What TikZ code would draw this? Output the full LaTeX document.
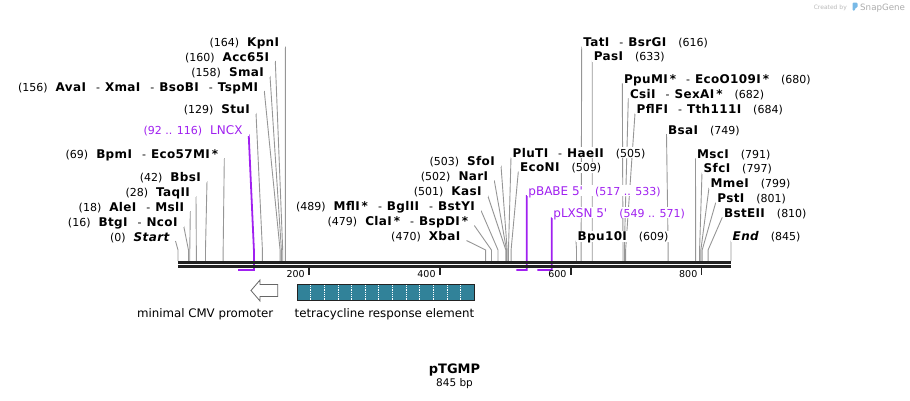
\documentclass[tikz,border=0pt]{standalone}
\usepackage{fontspec}
\setmainfont{DejaVu Sans}
\usetikzlibrary{backgrounds}

\definecolor{sitegray}{RGB}{150,150,150}
\definecolor{primer}{RGB}{160,32,240}
\definecolor{treteal}{RGB}{49,130,153}
\definecolor{backbone}{RGB}{34,34,34}
\definecolor{logoblue}{RGB}{120,185,230}

% map position (bp) -> x
\newcommand{\bpx}[1]{178+0.6544*#1}
\newcommand{\enz}[1]{{\fontsize{12}{13}\selectfont\bfseries\addfontfeature{LetterSpace=3}#1}}
\newcommand{\pname}[1]{{\fontsize{12}{13}\selectfont #1}}
\newcommand{\lgap}{\hspace{8pt}}
\newcommand{\rgap}{\hspace{12pt}}
\newcommand{\hy}{\hspace{10pt}-\hspace{5pt}}

\begin{document}
\begin{tikzpicture}[
    x=1pt, y=-1pt,
    font=\fontsize{11}{13}\selectfont,
    lbl/.style={fill=white, inner xsep=1.5pt, inner ysep=1pt, text depth=0pt},
    leftlbl/.style={lbl, anchor=base east, inner xsep=6pt},
    rightlbl/.style={lbl, anchor=base west},
    cut/.style={draw=sitegray, line width=0.9pt},
    primerline/.style={draw=primer, line width=1.8pt},
    ticklbl/.style={font=\fontsize{9.5}{11}\selectfont, anchor=base east, inner sep=0pt},
    featlbl/.style={font=\fontsize{11.8}{13}\selectfont, inner sep=0pt}
]
\useasboundingbox (0,0) rectangle (910,400);

% cut sites on the backbone
\foreach \p in {0,16,18,28,42,69,92,116,129,156,158,160,164,470,479,489,501,502,503,505,509,517,533,549,571,609,616,633,680,682,684,749,791,797,799,801,810,845}
    \coordinate (c\p) at ({\bpx{\p}},261);

% Enzymes left of the map
\node[leftlbl] (kpn) at (285.3,46.5) {(164)\lgap\enz{KpnI}};
\node[leftlbl] (acc) at (275.3,61) {(160)\lgap\enz{Acc65I}};
\node[leftlbl] (sma) at (270,76) {(158)\lgap\enz{SmaI}};
\node[leftlbl] (ava) at (264.3,91) {(156)\lgap\enz{AvaI}\hy\enz{XmaI}\hy\enz{BsoBI}\hy\enz{TspMI}};
\node[leftlbl] (stu) at (256,113) {(129)\lgap\enz{StuI}};
\node[leftlbl, text=primer] (lncx) at (248.7,134.5) {(92 .. 116)\lgap\pname{LNCX}};
\node[leftlbl] (bpm) at (224.3,158) {(69)\lgap\enz{BpmI}\hy\enz{Eco57MI\,*}};
\node[leftlbl] (bbs) at (207,181) {(42)\lgap\enz{BbsI}};
\node[leftlbl] (taq) at (196,196) {(28)\lgap\enz{TaqII}};
\node[leftlbl] (ale) at (190.3,211) {(18)\lgap\enz{AleI}\hy\enz{MslI}};
\node[leftlbl] (btg) at (183.7,226) {(16)\lgap\enz{BtgI}\hy\enz{NcoI}};
\node[leftlbl] (start) at (175.5,241) {(0)\lgap\enz{\itshape Start}};

% middle group
\node[leftlbl] (sfo) at (501,165.5) {(503)\lgap\enz{SfoI}};
\node[leftlbl] (nar) at (494.3,180.5) {(502)\lgap\enz{NarI}};
\node[leftlbl] (kas) at (487.7,195.5) {(501)\lgap\enz{KasI}};
\node[leftlbl] (mfl) at (481,210.5) {(489)\lgap\enz{MflI\,*}\hy\enz{BglII}\hy\enz{BstYI}};
\node[leftlbl] (cla) at (474.3,225.5) {(479)\lgap\enz{ClaI\,*}\hy\enz{BspDI\,*}};
\node[leftlbl] (xba) at (466.5,240.5) {(470)\lgap\enz{XbaI}};
\node[rightlbl] (plu) at (511,157.3) {\enz{PluTI}\hy\enz{HaeII}\rgap(505)};
\node[rightlbl] (econ) at (518.3,171.7) {\enz{EcoNI}\rgap(509)};
\node[rightlbl, text=primer] (pbabe) at (526.7,195) {\pname{pBABE 5\textquotesingle}\rgap(517 .. 533)};
\node[rightlbl, text=primer] (plxsn) at (551.7,217.3) {\pname{pLXSN 5\textquotesingle}\rgap(549 .. 571)};

% Enzymes right of the map
\node[rightlbl] (tat) at (581.7,46.7) {\enz{TatI}\hy\enz{BsrGI}\rgap(616)};
\node[rightlbl] (pas) at (592.2,60.7) {\enz{PasI}\rgap(633)};
\node[rightlbl] (ppu) at (622.3,83.3) {\enz{PpuMI\,*}\hy\enz{EcoO109I\,*}\rgap(680)};
\node[rightlbl] (csi) at (628.3,98.3) {\enz{CsiI}\hy\enz{SexAI\,*}\rgap(682)};
\node[rightlbl] (pfl) at (635,113.3) {\enz{PflFI}\hy\enz{Tth111I}\rgap(684)};
\node[rightlbl] (bsa) at (666.5,134) {\enz{BsaI}\rgap(749)};
\node[rightlbl] (msc) at (695.5,158.3) {\enz{MscI}\rgap(791)};
\node[rightlbl] (sfc) at (702,172.7) {\enz{SfcI}\rgap(797)};
\node[rightlbl] (mme) at (709,187.7) {\enz{MmeI}\rgap(799)};
\node[rightlbl] (pst) at (715.7,202.7) {\enz{PstI}\rgap(801)};
\node[rightlbl] (bst) at (722.3,217.3) {\enz{BstEII}\rgap(810)};
\node[rightlbl] (bpu) at (576,240.7) {\enz{Bpu10I}\rgap(609)};
\node[rightlbl] (fin) at (731,240.7) {\enz{\itshape End}\rgap(845)};

% leader lines down to the sequence
\begin{scope}[on background layer]
\draw[cut] (kpn.base east) -- ([yshift=11pt]c164) -- (c164);
\draw[cut] (acc.base east) -- ([yshift=11pt]c160) -- (c160);
\draw[cut] (sma.base east) -- ([yshift=11pt]c158) -- (c158);
\draw[cut] (ava.base east) -- ([yshift=11pt]c156) -- (c156);
\draw[cut] (stu.base east) -- ([yshift=11pt]c129) -- (c129);
\draw[cut] (bpm.base east) -- ([yshift=11pt]c69) -- (c69);
\draw[cut] (bbs.base east) -- ([yshift=11pt]c42) -- (c42);
\draw[cut] (taq.base east) -- ([yshift=11pt]c28) -- (c28);
\draw[cut] (ale.base east) -- ([yshift=11pt]c18) -- (c18);
\draw[cut] (btg.base east) -- ([yshift=11pt]c16) -- (c16);
\draw[cut] (start.base east) -- ([yshift=11pt]c0) -- (c0);
\draw[cut] (sfo.base east) -- ([yshift=11pt]c503) -- (c503);
\draw[cut] (nar.base east) -- ([yshift=11pt]c502) -- (c502);
\draw[cut] (kas.base east) -- ([yshift=11pt]c501) -- (c501);
\draw[cut] (mfl.base east) -- ([yshift=11pt]c489) -- (c489);
\draw[cut] (cla.base east) -- ([yshift=11pt]c479) -- (c479);
\draw[cut] (xba.base east) -- ([yshift=11pt]c470) -- (c470);
\draw[cut] (plu.base west) -- ([yshift=11pt]c505) -- (c505);
\draw[cut] (econ.base west) -- ([yshift=11pt]c509) -- (c509);
\draw[cut] (tat.base west) -- ([yshift=11pt]c616) -- (c616);
\draw[cut] (pas.base west) -- ([yshift=11pt]c633) -- (c633);
\draw[cut] (ppu.base west) -- ([yshift=11pt]c680) -- (c680);
\draw[cut] (csi.base west) -- ([yshift=11pt]c682) -- (c682);
\draw[cut] (pfl.base west) -- ([yshift=11pt]c684) -- (c684);
\draw[cut] (bsa.base west) -- ([yshift=11pt]c749) -- (c749);
\draw[cut] (msc.base west) -- ([yshift=11pt]c791) -- (c791);
\draw[cut] (sfc.base west) -- ([yshift=11pt]c797) -- (c797);
\draw[cut] (mme.base west) -- ([yshift=11pt]c799) -- (c799);
\draw[cut] (pst.base west) -- ([yshift=11pt]c801) -- (c801);
\draw[cut] (bst.base west) -- ([yshift=11pt]c810) -- (c810);
\draw[cut] (bpu.base west) -- ([yshift=11pt]c609) -- (c609);
\draw[cut] (fin.base west) -- ([yshift=11pt]c845) -- (c845);
% primer brackets
\draw[primerline] (lncx.base east) -- ([yshift=11pt]c116) -- ([yshift=-9pt]c116) -- ([yshift=-9pt]c92);
\draw[primerline] (pbabe.base west) -- ([yshift=-9pt]c533) -- ([yshift=-9pt]c517);
\draw[primerline] (plxsn.base west) -- ([yshift=-9pt]c571) -- ([yshift=-9pt]c549);
\end{scope}

% sequence (double strand) and ruler
\draw[backbone, line width=2.4pt] (178,262.4) -- (731,262.4);
\draw[backbone, line width=2.4pt] (178,266.6) -- (731,266.6);
\foreach \t in {200,400,600,800} {
    \draw[backbone, line width=1.8pt] ({\bpx{\t}},267.5) -- ++(0,7);
    \node[ticklbl] (t\t) at ({\bpx{\t}-4},277.5) {\t};
}

% features
\draw[draw=gray!80!black, fill=white, line width=0.8pt] (251,290.5) -- (260,280) -- (260,284.5) -- (277.7,284.5) -- (277.7,296.5) -- (260,296.5) -- (260,301) -- cycle;
\node[featlbl, anchor=base east] (cmv) at (273.5,317) {minimal CMV promoter};
\draw[draw=backbone, fill=treteal, line width=0.8pt] (297,284.3) rectangle (474.3,300.7);
\foreach \k in {1,...,12}
    \draw[white, densely dotted, line width=0.8pt] ({297+13.64*\k},285) -- ({297+13.64*\k},300);
\node[featlbl, anchor=base] (tre) at (384.5,317) {tetracycline response element};

% title
\node[anchor=base, font=\fontsize{13}{15}\selectfont\bfseries] (title) at (454.5,373.3) {pTGMP};
\node[anchor=base, font=\fontsize{10.5}{12}\selectfont] (size) at (454.5,386.7) {845 bp};

% watermark
\node[anchor=base east, inner sep=0pt, font=\fontsize{6}{7}\selectfont, text=gray!55] (credit) at (847,9.5) {Created by};
\fill[logoblue, rounded corners=1pt] (852.5,2.7) -- (857.5,2.7) -- (857.5,7.5) -- (855,8) -- (855,10.7) -- (852.5,10.7) -- cycle;
\node[anchor=base west, inner sep=0pt, font=\fontsize{8.7}{10}\selectfont, text=gray!65] (snap) at (860,10) {SnapGene};
\end{tikzpicture}
\end{document}
